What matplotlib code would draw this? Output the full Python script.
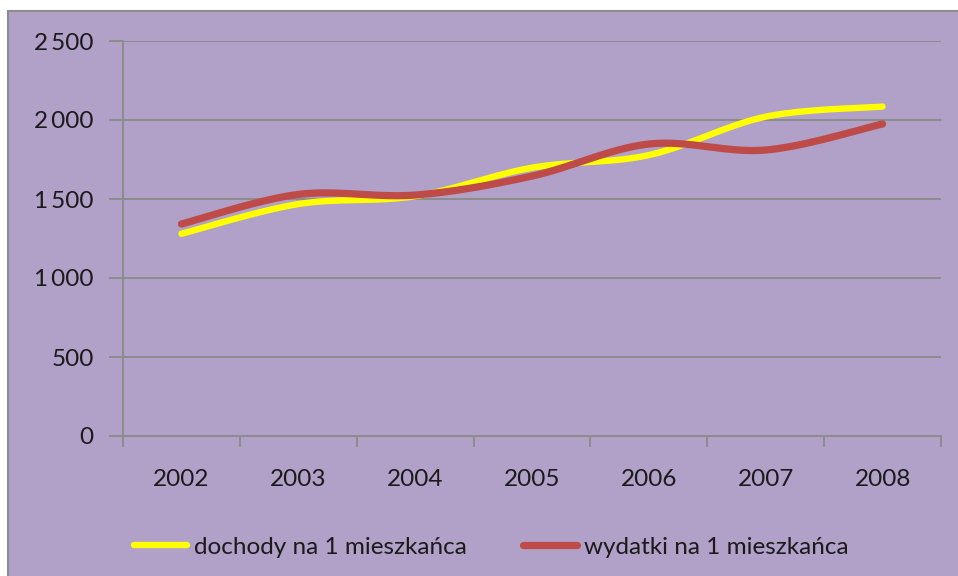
import numpy as np
import matplotlib
matplotlib.use("Agg")
import matplotlib.pyplot as plt
from matplotlib.patches import Rectangle
from matplotlib.ticker import FixedLocator, FuncFormatter

years = ["2002", "2003", "2004", "2005", "2006", "2007", "2008"]
dochody = [1280, 1468, 1518, 1698, 1778, 2021, 2085]
wydatki = [1342, 1529, 1525, 1645, 1848, 1810, 1975]
labels = ["dochody na 1 mieszkańca", "wydatki na 1 mieszkańca"]
yticks = [0, 500, 1000, 1500, 2000, 2500]

plt.rcParams['font.family'] = ['Lato', 'DejaVu Sans']

W, H = 958, 576
FS = 17.5
fig = plt.figure(figsize=(W / 100, H / 100), dpi=100)
fig.patch.set_facecolor("white")
bg = Rectangle((8 / W, -0.01), (W - 8) / W + 0.01, (H - 11) / H + 0.01,
               transform=fig.transFigure, facecolor="#B1A0C7",
               edgecolor="#8C8C8C", linewidth=1.5, zorder=-5)
fig.patches.append(bg)

ax = fig.add_axes([123 / W, 1 - 436 / H, (941 - 123) / W, (436 - 41) / H])
ax.set_zorder(2)
ax.set_facecolor("none")


def smooth(vals, n=40):
    x = np.arange(len(vals), dtype=float)
    y = np.asarray(vals, dtype=float)
    xs, ys = [], []
    for i in range(len(x) - 1):
        p0 = np.array([x[i], y[i]])
        p3 = np.array([x[i + 1], y[i + 1]])
        pm = np.array([x[i - 1], y[i - 1]]) if i > 0 else p0
        pp = np.array([x[i + 2], y[i + 2]]) if i + 2 < len(x) else p3
        c1 = p0 + (p3 - pm) / 6.0
        c2 = p3 - (pp - p0) / 6.0
        t = np.linspace(0, 1, n)[:, None]
        pts = ((1 - t) ** 3) * p0 + 3 * ((1 - t) ** 2) * t * c1 + 3 * (1 - t) * t ** 2 * c2 + t ** 3 * p3
        if i > 0:
            pts = pts[1:]
        xs.extend(pts[:, 0])
        ys.extend(pts[:, 1])
    return np.array(xs), np.array(ys)


xs, ys = smooth(dochody)
ax.plot(xs, ys, color="#FFFF00", lw=4.6, solid_capstyle="round", label=labels[0], zorder=3)
xs, ys = smooth(wydatki)
ax.plot(xs, ys, color="#BE4B48", lw=5.2, solid_capstyle="round", label=labels[1], zorder=4)

ax.set_xlim(-0.5, len(years) - 0.5)
ax.set_ylim(0, 2500)

ax.yaxis.set_major_locator(FixedLocator(yticks))
ax.yaxis.set_major_formatter(FuncFormatter(lambda v, p: f"{int(v):,}".replace(",", "\u2009")))
ax.grid(axis="y", color="#8C8C8C", lw=1.4, zorder=1)
ax.set_axisbelow(True)

ax.set_xticks(range(len(years)))
ax.set_xticklabels(years)
ax.set_xticks(np.arange(-0.5, len(years), 1.0), minor=True)
ax.tick_params(axis="x", which="major", length=0, pad=24, labelsize=FS, colors="#1a1a1a")
ax.tick_params(axis="x", which="minor", length=8, width=1.4, color="#8C8C8C", direction="out")
ax.tick_params(axis="y", which="major", length=10, width=1.4, color="#8C8C8C", pad=11,
               labelsize=FS, labelcolor="#1a1a1a")

for s in ["top", "right"]:
    ax.spines[s].set_visible(False)
for s in ["left", "bottom"]:
    ax.spines[s].set_color("#8C8C8C")
    ax.spines[s].set_linewidth(1.4)

h, l = ax.get_legend_handles_labels()
leg = fig.legend(h, l, loc="center", bbox_to_anchor=(491 / W, 1 - 547 / H), ncol=2,
                 frameon=False, fontsize=FS, handlelength=2.2, handletextpad=0.3,
                 columnspacing=2.3, labelcolor="#1a1a1a")

fig.savefig("out.png", dpi=100)
